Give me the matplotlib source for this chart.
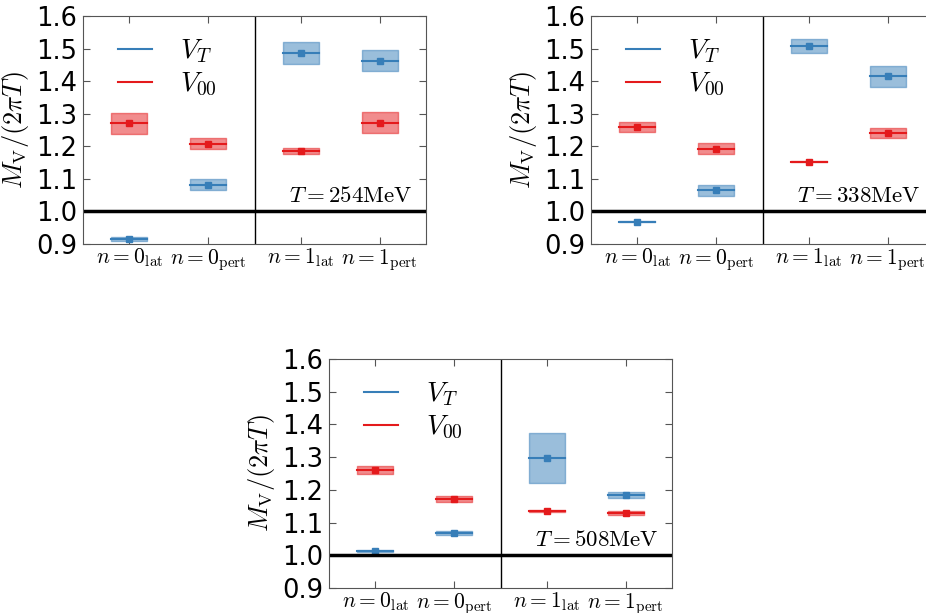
import numpy as np
import matplotlib
matplotlib.use('Agg')
import matplotlib.pyplot as plt
from matplotlib.lines import Line2D

plt.rcParams['mathtext.fontset'] = 'cm'
plt.rcParams['font.family'] = 'DejaVu Sans'

labels = [r'$n{=}0_{\rm lat}$', r'$n{=}0_{\rm pert}$', r'$n{=}1_{\rm lat}$', r'$n{=}1_{\rm pert}$']
temps = [254, 338, 508]

# V_T channel: central values and errors per temperature
vt_val = {
	254: [0.915, 1.082, 1.487, 1.463],
	338: [0.969, 1.065, 1.508, 1.415],
	508: [1.012, 1.069, 1.298, 1.183],
}
vt_err = {
	254: [0.006, 0.017, 0.033, 0.032],
	338: [0.002, 0.017, 0.021, 0.033],
	508: [0.003, 0.006, 0.076, 0.009],
}

# V_00 channel
v00_val = {
	254: [1.270, 1.208, 1.185, 1.272],
	338: [1.260, 1.193, 1.153, 1.241],
	508: [1.260, 1.173, 1.136, 1.130],
}
v00_err = {
	254: [0.033, 0.017, 0.010, 0.032],
	338: [0.016, 0.017, 0.002, 0.016],
	508: [0.013, 0.009, 0.003, 0.006],
}

blue = '#377eb8'
red = '#e41a1c'
xpos = [0.135, 0.365, 0.635, 0.865]
hw = 0.052

def draw(ax, vals, errs, c):
	for x, v, e in zip(xpos, vals, errs):
		ax.fill_between([x - hw, x + hw], v - e, v + e, facecolor=c, edgecolor=c, alpha=0.5, lw=1)
		ax.plot([x - hw, x + hw], [v, v], color=c, lw=1.5)
		ax.plot([x], [v], 's', color=c, ms=4, mec=c)

def panel(ax, T):
	draw(ax, vt_val[T], vt_err[T], blue)
	draw(ax, v00_val[T], v00_err[T], red)
	ax.axhline(1.0, color='k', lw=2.5)
	ax.axvline(0.5, color='k', lw=1)
	ax.set_xlim(0, 1)
	ax.set_ylim(0.9, 1.6)
	ticks = np.arange(0.9, 1.61, 0.1)
	ax.set_yticks(ticks)
	ax.set_yticklabels(['%.1f' % t for t in ticks], fontsize=18.5)
	ax.set_xticks(xpos)
	ax.set_xticklabels(labels, fontsize=15.5)
	ax.tick_params(direction='in', top=True, right=True, length=5, color='#555555')
	ax.tick_params(axis='x', pad=2)
	ax.tick_params(axis='y', pad=4)
	for s in ax.spines.values():
		s.set_color('#555555')
	ax.set_ylabel(r'$M_{\rm V}/(2\pi T)$', fontsize=19, labelpad=4)
	ax.text(0.96, 0.185, r'$T{=}%d\mathrm{MeV}$' % T, transform=ax.transAxes,
		ha='right', va='baseline', fontsize=16.5)
	handles = [Line2D([], [], color=blue, lw=1.5), Line2D([], [], color=red, lw=1.5)]
	ax.legend(handles, [r'$V_T$', r'$V_{00}$'], loc='upper left', frameon=False,
		fontsize=20, handlelength=1.25, handletextpad=1.0, labelspacing=0.15,
		bbox_to_anchor=(0.028, 1.02))

fig = plt.figure(figsize=(9.26, 6.13), dpi=100)
ax1 = fig.add_axes([83/926, 1 - 244/613, 343/926, 228/613])
ax2 = fig.add_axes([591/926, 1 - 244/613, 343/926, 228/613])
ax3 = fig.add_axes([329/926, 1 - 588/613, 343/926, 229/613])

for ax, T in zip([ax1, ax2, ax3], temps):
	panel(ax, T)

fig.savefig('out.png', dpi=100)
